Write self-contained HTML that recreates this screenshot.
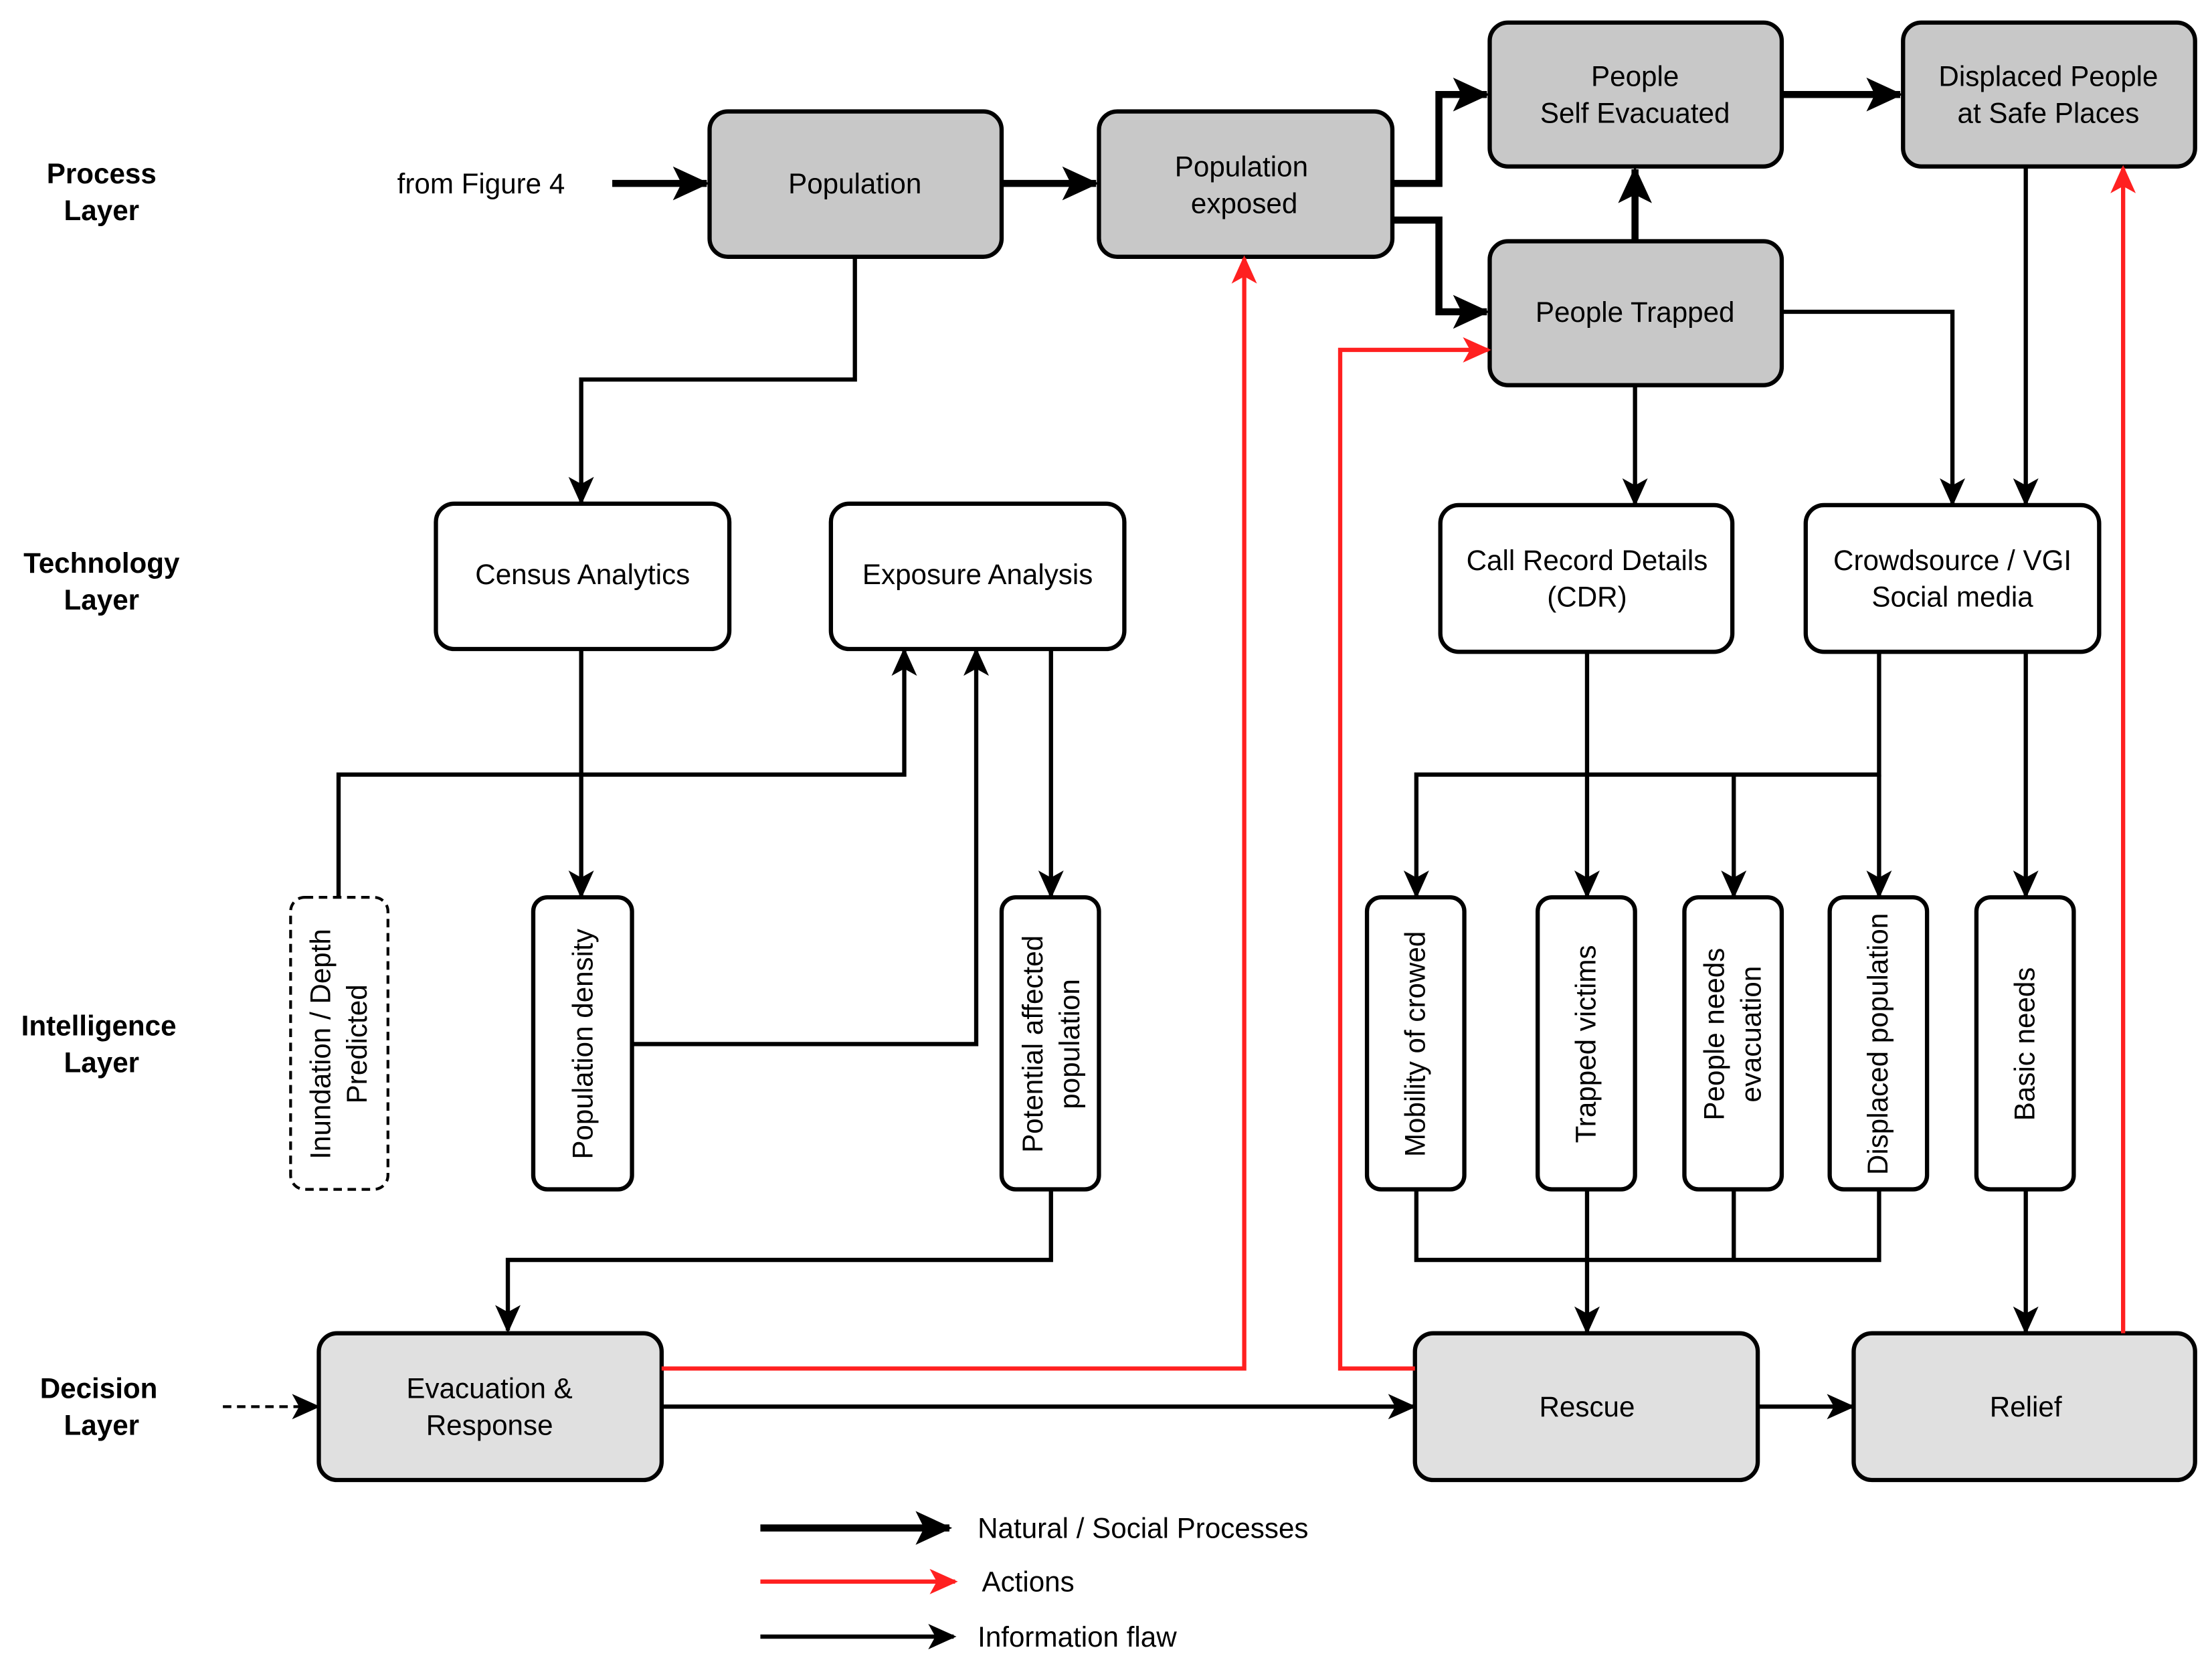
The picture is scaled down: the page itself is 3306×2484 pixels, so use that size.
<!DOCTYPE html>
<html><head><meta charset="utf-8"><style>
html,body{margin:0;padding:0;background:#fff}
svg{display:block}
text{font-family:"Liberation Sans",Arial,sans-serif;font-size:20px;fill:#000}
.b{font-weight:bold}
</style></head><body>
<svg width="3306" height="2484" viewBox="0 0 1568 1178" preserveAspectRatio="none" xmlns="http://www.w3.org/2000/svg">
<defs>
<marker id="tk" markerUnits="userSpaceOnUse" markerWidth="26" markerHeight="24" refX="24" refY="12" orient="auto"><path d="M0,0 L26,12 L0,24 L6,12 Z" fill="#000"/></marker>
<marker id="tn" markerUnits="userSpaceOnUse" markerWidth="20" markerHeight="18" refX="18" refY="9" orient="auto"><path d="M0,0 L20,9 L0,18 L5,9 Z" fill="#000"/></marker>
<marker id="rd" markerUnits="userSpaceOnUse" markerWidth="20" markerHeight="18" refX="18" refY="9" orient="auto"><path d="M0,0 L20,9 L0,18 L5,9 Z" fill="#ff2020"/></marker>
</defs>
<g stroke="#000" stroke-width="3">
<rect x="503" y="79" width="207" height="103" rx="13" fill="#c8c8c8"/>
<rect x="779" y="79" width="208" height="103" rx="13" fill="#c8c8c8"/>
<rect x="1056" y="16" width="207" height="102" rx="13" fill="#c8c8c8"/>
<rect x="1349" y="16" width="207" height="102" rx="13" fill="#c8c8c8"/>
<rect x="1056" y="171" width="207" height="102" rx="13" fill="#c8c8c8"/>
<rect x="309" y="357" width="208" height="103" rx="13" fill="#fff"/>
<rect x="589" y="357" width="208" height="103" rx="13" fill="#fff"/>
<rect x="1021" y="358" width="207" height="104" rx="13" fill="#fff"/>
<rect x="1280" y="358" width="208" height="104" rx="13" fill="#fff"/>
<rect x="206" y="636" width="69" height="207" rx="10" fill="#fff" stroke-dasharray="6,4" stroke-width="2"/>
<rect x="378" y="636" width="70" height="207" rx="10" fill="#fff"/>
<rect x="710" y="636" width="69" height="207" rx="10" fill="#fff"/>
<rect x="969" y="636" width="69" height="207" rx="10" fill="#fff"/>
<rect x="1090" y="636" width="69" height="207" rx="10" fill="#fff"/>
<rect x="1194" y="636" width="69" height="207" rx="10" fill="#fff"/>
<rect x="1297" y="636" width="69" height="207" rx="10" fill="#fff"/>
<rect x="1401" y="636" width="69" height="207" rx="10" fill="#fff"/>
<rect x="226" y="945" width="243" height="104" rx="13" fill="#e0e0e0"/>
<rect x="1003" y="945" width="243" height="104" rx="13" fill="#e0e0e0"/>
<rect x="1314" y="945" width="242" height="104" rx="13" fill="#e0e0e0"/>
</g>
<g fill="none" stroke="#000" stroke-width="5">
<path d="M434,130 H501" marker-end="url(#tk)"/>
<path d="M710,130 H777" marker-end="url(#tk)"/>
<path d="M987,130 H1020 V67 H1054" marker-end="url(#tk)"/>
<path d="M987,156 H1020 V221 H1054" marker-end="url(#tk)"/>
<path d="M1159,171 V120" marker-end="url(#tk)"/>
<path d="M1263,67 H1347" marker-end="url(#tk)"/>
<path d="M539,1083 H673" marker-end="url(#tk)"/>
</g>
<g fill="none" stroke="#000" stroke-width="3">
<path d="M606,182 V269 H412 V356" marker-end="url(#tn)"/>
<path d="M1159,273 V357" marker-end="url(#tn)"/>
<path d="M1263,221 H1384 V357" marker-end="url(#tn)"/>
<path d="M1436,118 V357" marker-end="url(#tn)"/>
<path d="M412,460 V635" marker-end="url(#tn)"/>
<path d="M240,636 V549 H641 V461" marker-end="url(#tn)"/>
<path d="M448,740 H692 V461" marker-end="url(#tn)"/>
<path d="M745,460 V635" marker-end="url(#tn)"/>
<path d="M745,843 V893 H360 V943" marker-end="url(#tn)"/>
<path d="M1125,462 V635" marker-end="url(#tn)"/>
<path d="M1332,462 V549 H1004 V635" marker-end="url(#tn)"/>
<path d="M1229,549 V635" marker-end="url(#tn)"/>
<path d="M1332,549 V635" marker-end="url(#tn)"/>
<path d="M1436,462 V635" marker-end="url(#tn)"/>
<path d="M1004,843 V893 H1332 V843 M1229,843 V893"/>
<path d="M1125,843 V944" marker-end="url(#tn)"/>
<path d="M1436,843 V944" marker-end="url(#tn)"/>
<path d="M469,997 H1002" marker-end="url(#tn)"/>
<path d="M1246,997 H1313" marker-end="url(#tn)"/>
<path d="M539,1160 H676" marker-end="url(#tn)"/>
<path d="M158,997 H225" stroke-width="2" stroke-dasharray="6,4" marker-end="url(#tn)"/>
</g>
<g fill="none" stroke="#ff2020" stroke-width="3">
<path d="M469,970 H882 V183" marker-end="url(#rd)"/>
<path d="M1003,970 H950 V248 H1055" marker-end="url(#rd)"/>
<path d="M1505,945 V119" marker-end="url(#rd)"/>
<path d="M539,1121 H677" marker-end="url(#rd)"/>
</g>
<g text-anchor="middle">
<text class="b" x="72" y="130">Process</text><text class="b" x="72" y="156">Layer</text>
<text class="b" x="72" y="406">Technology</text><text class="b" x="72" y="432">Layer</text>
<text class="b" x="70" y="734">Intelligence</text><text class="b" x="72" y="760">Layer</text>
<text class="b" x="70" y="991">Decision</text><text class="b" x="72" y="1017">Layer</text>
<text x="341" y="137">from Figure 4</text>
<text x="606" y="137">Population</text>
<text x="880" y="125">Population</text><text x="882" y="151">exposed</text>
<text x="1159" y="61">People</text><text x="1159" y="87">Self Evacuated</text>
<text x="1452" y="61">Displaced People</text><text x="1452" y="87">at Safe Places</text>
<text x="1159" y="228">People Trapped</text>
<text x="413" y="414">Census Analytics</text>
<text x="693" y="414">Exposure Analysis</text>
<text x="1125" y="404">Call Record Details</text><text x="1125" y="430">(CDR)</text>
<text x="1384" y="404">Crowdsource / VGI</text><text x="1384" y="430">Social media</text>
<text x="347" y="991">Evacuation &amp;</text><text x="347" y="1017">Response</text>
<text x="1125" y="1004">Rescue</text>
<text x="1436" y="1004">Relief</text>
</g>
<g text-anchor="middle">
<text transform="translate(234,740) rotate(-90)">Inundation / Depth</text>
<text transform="translate(260,740) rotate(-90)">Predicted</text>
<text transform="translate(420,740) rotate(-90)">Population density</text>
<text transform="translate(739,740) rotate(-90)">Potential affected</text>
<text transform="translate(765,740) rotate(-90)">population</text>
<text transform="translate(1010,740) rotate(-90)">Mobility of crowed</text>
<text transform="translate(1131,740) rotate(-90)">Trapped victims</text>
<text transform="translate(1222,733) rotate(-90)">People needs</text>
<text transform="translate(1248,733) rotate(-90)">evacuation</text>
<text transform="translate(1338,740) rotate(-90)">Displaced population</text>
<text transform="translate(1442,740) rotate(-90)">Basic needs</text>
</g>
<text x="693" y="1090">Natural / Social Processes</text>
<text x="696" y="1128">Actions</text>
<text x="693" y="1167">Information flaw</text>
</svg>
</body></html>
